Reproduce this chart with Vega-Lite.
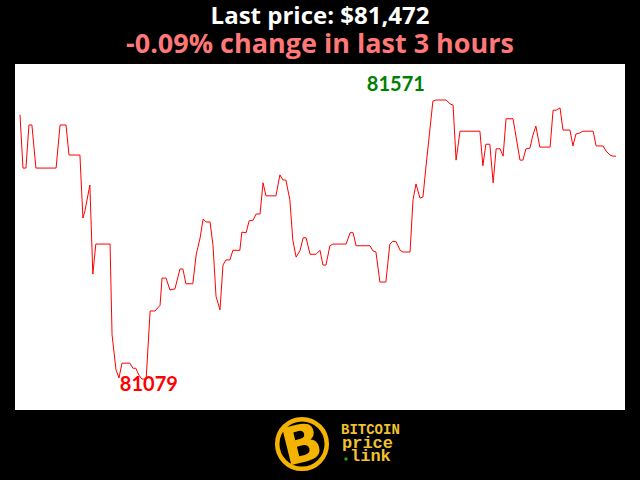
{
  "$schema": "https://vega.github.io/schema/vega-lite/v6.json",
  "background": "black",
  "padding": {"left": 15, "right": 15, "top": 5, "bottom": 0},
  "spacing": 0,
  "config": {"view": {"stroke": null}},
  "vconcat": [
    {
      "title": {
        "text": "Last price: $81,472",
        "subtitle": "-0.09% change in last 3 hours",
        "color": "white",
        "font": "Open Sans",
        "fontSize": 24,
        "fontWeight": "bold",
        "subtitleColor": "#ff7777",
        "subtitleFont": "Open Sans",
        "subtitleFontSize": 27,
        "subtitleFontWeight": "bold",
        "subtitlePadding": 3,
        "anchor": "middle",
        "offset": 6
      },
      "width": 610,
      "height": 346,
      "view": {"fill": "white", "stroke": null},
      "data": {
        "values": [
          {"t": 0, "price": 81545}, {"t": 0.9, "price": 81451}, {"t": 1.8, "price": 81451},
          {"t": 2.7, "price": 81527}, {"t": 3.6, "price": 81527}, {"t": 4.8, "price": 81451},
          {"t": 10.9, "price": 81451}, {"t": 12.1, "price": 81527}, {"t": 13.9, "price": 81527},
          {"t": 14.8, "price": 81474}, {"t": 18.1, "price": 81474}, {"t": 19.0, "price": 81363},
          {"t": 19.6, "price": 81375}, {"t": 21.1, "price": 81421}, {"t": 22.0, "price": 81264},
          {"t": 22.9, "price": 81317}, {"t": 27.2, "price": 81317}, {"t": 27.8, "price": 81157},
          {"t": 29.0, "price": 81095}, {"t": 29.9, "price": 81081}, {"t": 30.8, "price": 81107},
          {"t": 33.2, "price": 81107}, {"t": 34.1, "price": 81098}, {"t": 35.0, "price": 81098},
          {"t": 35.9, "price": 81086}, {"t": 36.8, "price": 81079}, {"t": 38.1, "price": 81079},
          {"t": 39.3, "price": 81199}, {"t": 40.8, "price": 81199}, {"t": 42.3, "price": 81209},
          {"t": 42.9, "price": 81257}, {"t": 44.1, "price": 81257}, {"t": 45.3, "price": 81236},
          {"t": 46.8, "price": 81238}, {"t": 48.3, "price": 81273}, {"t": 49.2, "price": 81273},
          {"t": 50.1, "price": 81247}, {"t": 52.2, "price": 81247}, {"t": 53.2, "price": 81298},
          {"t": 54.4, "price": 81328}, {"t": 55.3, "price": 81361}, {"t": 56.2, "price": 81356},
          {"t": 57.4, "price": 81356}, {"t": 58.3, "price": 81314}, {"t": 59.2, "price": 81225},
          {"t": 60.4, "price": 81201}, {"t": 61.3, "price": 81280}, {"t": 62.2, "price": 81289},
          {"t": 63.4, "price": 81289}, {"t": 64.3, "price": 81306}, {"t": 66.4, "price": 81306},
          {"t": 67.0, "price": 81338}, {"t": 68.3, "price": 81337}, {"t": 69.2, "price": 81358},
          {"t": 70.4, "price": 81359}, {"t": 71.3, "price": 81370}, {"t": 72.5, "price": 81370},
          {"t": 73.4, "price": 81425}, {"t": 74.3, "price": 81402}, {"t": 77.3, "price": 81402},
          {"t": 78.5, "price": 81439}, {"t": 79.4, "price": 81430}, {"t": 80.3, "price": 81430},
          {"t": 81.5, "price": 81395}, {"t": 82.4, "price": 81324}, {"t": 83.4, "price": 81294},
          {"t": 84.6, "price": 81306}, {"t": 85.5, "price": 81328}, {"t": 86.4, "price": 81328},
          {"t": 87.6, "price": 81299}, {"t": 89.4, "price": 81299}, {"t": 90.6, "price": 81306},
          {"t": 91.5, "price": 81280}, {"t": 92.4, "price": 81280}, {"t": 93.6, "price": 81314},
          {"t": 94.5, "price": 81317}, {"t": 98.5, "price": 81317}, {"t": 99.7, "price": 81337},
          {"t": 100.6, "price": 81337}, {"t": 101.5, "price": 81314}, {"t": 105.7, "price": 81314},
          {"t": 106.6, "price": 81305}, {"t": 107.5, "price": 81303}, {"t": 108.7, "price": 81250},
          {"t": 110.5, "price": 81250}, {"t": 111.7, "price": 81317}, {"t": 112.6, "price": 81322},
          {"t": 113.6, "price": 81321}, {"t": 114.8, "price": 81306}, {"t": 115.7, "price": 81303},
          {"t": 117.8, "price": 81303}, {"t": 118.7, "price": 81395}, {"t": 119.6, "price": 81423},
          {"t": 120.8, "price": 81398}, {"t": 121.7, "price": 81400}, {"t": 122.6, "price": 81453},
          {"t": 124.7, "price": 81569}, {"t": 125.6, "price": 81571}, {"t": 128.7, "price": 81571},
          {"t": 129.9, "price": 81564}, {"t": 130.8, "price": 81562}, {"t": 131.7, "price": 81465},
          {"t": 132.9, "price": 81516}, {"t": 138.9, "price": 81516}, {"t": 139.8, "price": 81455},
          {"t": 140.7, "price": 81493}, {"t": 141.9, "price": 81493}, {"t": 142.9, "price": 81425},
          {"t": 143.8, "price": 81485}, {"t": 145.0, "price": 81485}, {"t": 145.9, "price": 81472},
          {"t": 146.8, "price": 81538}, {"t": 148.9, "price": 81538}, {"t": 151.0, "price": 81465},
          {"t": 151.9, "price": 81465}, {"t": 152.8, "price": 81485}, {"t": 154.0, "price": 81486},
          {"t": 154.9, "price": 81509}, {"t": 155.8, "price": 81525}, {"t": 157.0, "price": 81488},
          {"t": 160.1, "price": 81488}, {"t": 161.0, "price": 81553}, {"t": 161.9, "price": 81553},
          {"t": 163.1, "price": 81557}, {"t": 164.0, "price": 81518}, {"t": 166.1, "price": 81518},
          {"t": 167.0, "price": 81490}, {"t": 167.9, "price": 81511}, {"t": 169.1, "price": 81513},
          {"t": 170.0, "price": 81516}, {"t": 173.1, "price": 81516}, {"t": 174.0, "price": 81490},
          {"t": 176.1, "price": 81490}, {"t": 177.0, "price": 81481}, {"t": 178.2, "price": 81474},
          {"t": 179.1, "price": 81472}, {"t": 180.0, "price": 81472}
        ]
      },
      "encoding": {
        "x": {"field": "t", "type": "quantitative", "scale": {"domain": [-1.51, 182.72], "nice": false, "zero": false}, "axis": null},
        "y": {"field": "price", "type": "quantitative", "scale": {"domain": [81024.4, 81634.5], "nice": false, "zero": false}, "axis": null}
      },
      "layer": [
        {"mark": {"type": "line", "color": "#ff0000", "strokeWidth": 1}},
        {
          "transform": [
            {"window": [{"op": "row_number", "as": "r"}], "sort": [{"field": "price", "order": "ascending"}, {"field": "t", "order": "ascending"}]},
            {"filter": "datum.r === 1"}
          ],
          "mark": {"type": "text", "font": "Lato", "fontSize": 20, "fontWeight": "bold", "color": "#ff0000", "align": "center", "baseline": "alphabetic", "dx": 7, "dy": 12},
          "encoding": {"text": {"field": "price", "type": "quantitative", "format": "d"}}
        },
        {
          "transform": [
            {"window": [{"op": "row_number", "as": "r"}], "sort": [{"field": "price", "order": "descending"}, {"field": "t", "order": "ascending"}]},
            {"filter": "datum.r === 1"}
          ],
          "mark": {"type": "text", "font": "Lato", "fontSize": 20, "fontWeight": "bold", "color": "#008000", "align": "center", "baseline": "alphabetic", "dx": -40, "dy": -9},
          "encoding": {"text": {"field": "price", "type": "quantitative", "format": "d"}}
        }
      ]
    },
    {
      "width": 610,
      "height": 70,
      "view": {"fill": null, "stroke": null},
      "data": {"values": [{"logo": "bitcoin price link"}]},
      "layer": [
        {
          "mark": {"type": "point", "shape": "circle", "size": 2460, "filled": false, "color": "#f5b301", "strokeWidth": 4.5, "opacity": 1},
          "encoding": {
            "x": {"datum": 287, "type": "quantitative", "scale": {"domain": [0, 610], "nice": false, "zero": false}, "axis": null},
            "y": {"datum": 33, "type": "quantitative", "scale": {"domain": [70, 0], "nice": false, "zero": false}, "axis": null}
          }
        },
        {
          "mark": {"type": "text", "text": "B", "font": "DejaVu Sans", "fontSize": 52, "fontWeight": "bold", "color": "#f5b301", "angle": -14, "align": "center", "baseline": "middle"},
          "encoding": {
            "x": {"datum": 287, "type": "quantitative"},
            "y": {"datum": 35, "type": "quantitative"}
          }
        },
        {
          "mark": {"type": "text", "text": "BITCOIN", "font": "Liberation Mono", "fontSize": 14, "fontWeight": "bold", "color": "#f2c12e", "align": "left", "baseline": "alphabetic"},
          "encoding": {
            "x": {"datum": 326, "type": "quantitative"},
            "y": {"datum": 23, "type": "quantitative"}
          }
        },
        {
          "mark": {"type": "text", "text": "price", "font": "Liberation Mono", "fontSize": 17, "fontWeight": "bold", "color": "#f2c12e", "align": "left", "baseline": "alphabetic"},
          "encoding": {
            "x": {"datum": 327, "type": "quantitative"},
            "y": {"datum": 36.5, "type": "quantitative"}
          }
        },
        {
          "mark": {"type": "text", "text": "link", "font": "Liberation Mono", "fontSize": 17, "fontWeight": "bold", "color": "#f2c12e", "align": "left", "baseline": "alphabetic"},
          "encoding": {
            "x": {"datum": 335, "type": "quantitative"},
            "y": {"datum": 50, "type": "quantitative"}
          }
        },
        {
          "mark": {"type": "point", "shape": "circle", "size": 12, "filled": true, "color": "#1fa31f", "opacity": 1},
          "encoding": {
            "x": {"datum": 331, "type": "quantitative"},
            "y": {"datum": 48, "type": "quantitative"}
          }
        }
      ]
    }
  ]
}
